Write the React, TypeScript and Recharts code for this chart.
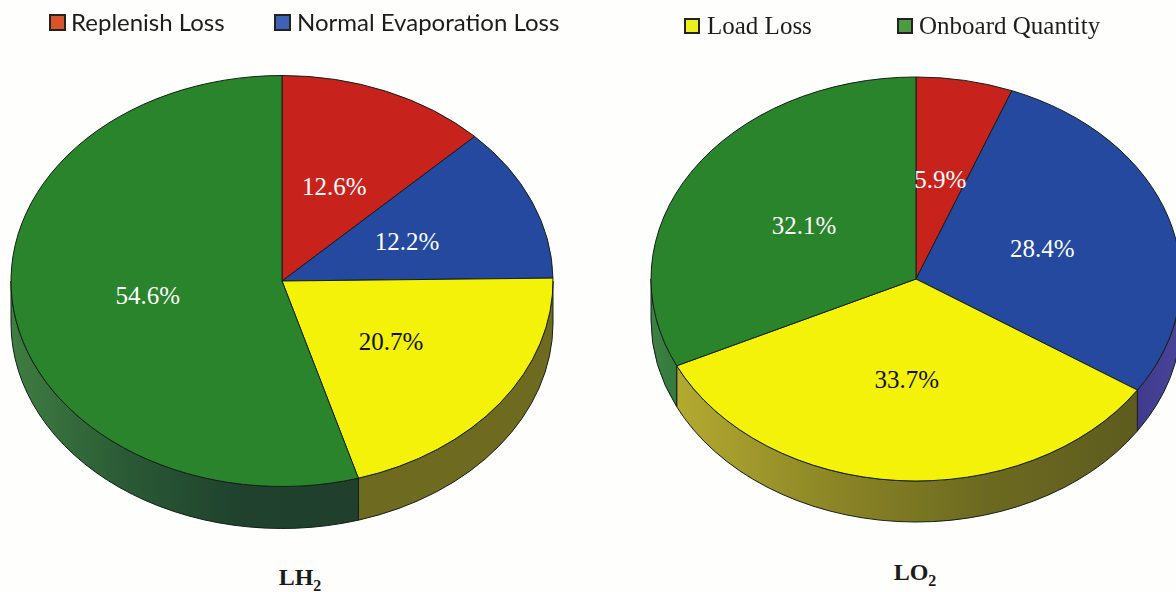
import React from "react";
import { PieChart, Pie, Legend } from "recharts";

const categories = ["Replenish Loss", "Normal Evaporation Loss", "Load Loss", "Onboard Quantity"];
const lh2Values = [12.6, 12.2, 20.7, 54.6];
const lo2Values = [5.9, 28.4, 33.7, 32.1];
const chartTitles = ["LH", "LO"];

const topColors = ["#c8221c", "#24499f", "#f3f208", "#2a842b"];
const labelColors = ["#ffffff", "#ffffff", "#111111", "#ffffff"];
const swatchColors = ["#d8552c", "#3f62b4", "#eef01e", "#4f9a40"];
const lh2Wall = [
  ["#8a1a16", "#8a1a16"],
  ["#1c2f6a", "#1c2f6a"],
  ["#6e6a20", "#6e6a20"],
  ["#3f7d40", "#2a5a35", "#1f412d", "#20402c"],
];
const lo2Wall = [
  ["#8a1a16", "#8a1a16"],
  ["#3f3a8c", "#4a4598"],
  ["#b3aa30", "#8c8626", "#6c6a20", "#5e5c1e"],
  ["#3c8042", "#357a3e"],
];

const rows = (values: number[]) =>
  categories.map((name, i) => ({ name, value: values[i], fill: topColors[i], index: i }));

const FONT_SERIF = "'Liberation Serif', serif";
const FONT_SANS = "Lato, sans-serif";

const rad = (d: number) => (d * Math.PI) / 180;

const makeShape = (ratio: number, depth: number, wall: string[][], id: string) => (p: any) => {
  const { cx, cy, outerRadius: rx, startAngle, endAngle, fill, index } = p;
  const ry = rx * ratio;
  const t0 = 90 - startAngle;
  const t1 = 90 - endAngle;
  const pt = (t: number, dy = 0) => [cx + rx * Math.sin(rad(t)), cy - ry * Math.cos(rad(t)) + dy];
  const [x0, y0] = pt(t0);
  const [x1, y1] = pt(t1);
  const large = t1 - t0 > 180 ? 1 : 0;
  const top = `M${cx},${cy}L${x0},${y0}A${rx},${ry} 0 ${large} 1 ${x1},${y1}Z`;
  const ws = Math.max(t0, 90);
  const we = Math.min(t1, 270);
  let side: React.ReactNode = null;
  if (we > ws) {
    const [ax, ay] = pt(ws);
    const [bx, by] = pt(we);
    const gid = `${id}-${index}`;
    const stops = wall[index];
    side = (
      <>
        <linearGradient id={gid} x1={Math.max(ax, bx)} x2={Math.min(ax, bx)} y1="0" y2="0" gradientUnits="userSpaceOnUse">
          {[...stops].reverse().map((c, i) => (
            <stop key={i} offset={i / (stops.length - 1)} stopColor={c} />
          ))}
        </linearGradient>
        <path
          d={`M${ax},${ay}A${rx},${ry} 0 0 1 ${bx},${by}L${bx},${by + depth}A${rx},${ry} 0 0 0 ${ax},${ay + depth}Z`}
          fill={`url(#${gid})`}
          stroke="#14201a"
          strokeWidth={1}
        />
      </>
    );
  }
  return (
    <g>
      {side}
      <path d={top} fill={fill} stroke="#14201a" strokeWidth={1} />
    </g>
  );
};

const makeLabel = (ratio: number) => (p: any) => {
  const { cx, cy, outerRadius: rx, midAngle, value, index } = p;
  const t = 90 - midAngle;
  const x = cx + 0.5 * rx * Math.sin(rad(t));
  const y = cy - 0.5 * rx * ratio * Math.cos(rad(t));
  return (
    <text
      x={x}
      y={y}
      textAnchor="middle"
      dominantBaseline="central"
      fontFamily={FONT_SERIF}
      fontSize={25}
      fill={labelColors[index]}
    >
      {`${value.toFixed(1)}%`}
    </text>
  );
};

const legendPlaces = [
  { left: 49, top: 14, size: 17, textLeft: 71, textTop: 7, font: FONT_SANS, fontSize: 24 },
  { left: 274, top: 14, size: 17, textLeft: 297, textTop: 7, font: FONT_SANS, fontSize: 24 },
  { left: 684, top: 18, size: 16, textLeft: 707, textTop: 11, font: FONT_SERIF, fontSize: 25 },
  { left: 897, top: 18, size: 16, textLeft: 919, textTop: 11, font: FONT_SERIF, fontSize: 25 },
];

const LegendContent = () => (
  <div style={{ position: "absolute", left: 0, top: 0, width: 0, height: 0 }}>
    {categories.map((name, i) => {
      const s = legendPlaces[i];
      return (
        <React.Fragment key={name}>
          <div
            style={{
              position: "fixed",
              left: s.left,
              top: s.top,
              width: s.size,
              height: s.size,
              boxSizing: "border-box",
              border: "2px solid #222",
              background: swatchColors[i],
            }}
          />
          <div
            style={{
              position: "fixed",
              left: s.textLeft,
              top: s.textTop,
              fontFamily: s.font,
              fontSize: s.fontSize,
              color: "#1d1d1d",
              whiteSpace: "nowrap",
              lineHeight: "30px",
            }}
          >
            {name}
          </div>
        </React.Fragment>
      );
    })}
  </div>
);

const Title = ({ x, y, text }: { x: number; y: number; text: string }) => (
  <text x={x} y={y} textAnchor="middle" fontFamily={FONT_SERIF} fontWeight="bold" fontSize={24} fill="#1a1a1a">
    {text}
    <tspan dy={6} fontSize={16}>2</tspan>
  </text>
);

export default function App() {
  const lh2Ratio = 205.5 / 271;
  const lo2Ratio = 202 / 265;
  return (
    <div style={{ position: "absolute", left: 0, top: 0, width: 1176, height: 592, overflow: "hidden", background: "#fefefd" }}>
      <PieChart width={1176} height={592} margin={{ top: 0, right: 0, bottom: 0, left: 0 }}>
        <Pie
          data={rows(lh2Values)}
          dataKey="value"
          nameKey="name"
          cx={282}
          cy={281}
          outerRadius={271}
          startAngle={90}
          endAngle={-270}
          isAnimationActive={false}
          labelLine={false}
          label={makeLabel(lh2Ratio)}
          shape={makeShape(lh2Ratio, 42, lh2Wall, "lh2")}
        />
        <Pie
          data={rows(lo2Values)}
          dataKey="value"
          nameKey="name"
          cx={916}
          cy={279}
          outerRadius={265}
          startAngle={90}
          endAngle={-270}
          isAnimationActive={false}
          labelLine={false}
          label={makeLabel(lo2Ratio)}
          shape={makeShape(lo2Ratio, 41, lo2Wall, "lo2")}
        />
        <Legend content={LegendContent} />
        <Title x={300} y={585} text={chartTitles[0]} />
        <Title x={915} y={580} text={chartTitles[1]} />
      </PieChart>
    </div>
  );
}
